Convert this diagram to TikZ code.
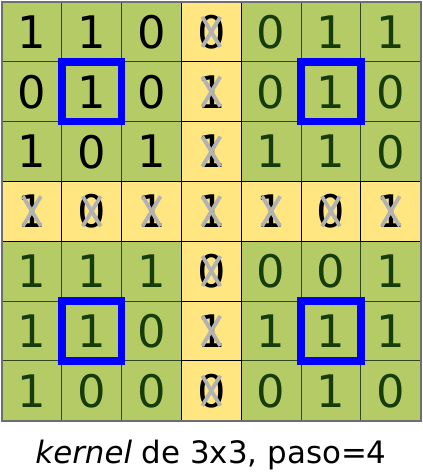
\documentclass[tikz,border=0pt]{standalone}
\usepackage{fontspec}
\setmainfont{DejaVu Sans}
\definecolor{cgreen}{RGB}{181,204,102}
\definecolor{cyellow}{RGB}{255,230,128}
\definecolor{cdark}{RGB}{22,60,10}
\definecolor{cline}{RGB}{50,70,30}
\definecolor{cgrayx}{RGB}{178,178,178}
\definecolor{cborder}{RGB}{110,110,110}
\begin{document}
\begin{tikzpicture}[x=1bp,y=-1bp,
  gcell/.style={fill=cgreen,draw=cline,line width=0.9bp},
  ycell/.style={fill=cyellow,draw=black,line width=0.9bp},
  digit/.style={font=\fontsize{45}{48}\selectfont,inner sep=0pt,text depth=0pt},
  crossline/.style={draw=cgrayx,line width=3.8bp},
  kbox/.style={draw=blue,line width=7.5bp},
  caption/.style={font=\fontsize{31}{36}\selectfont,anchor=base}]
\useasboundingbox (0,0) rectangle (422,473);
\def\cw{59.8}
\def\ox{2}
\def\oy{2}
\foreach \r/\rowv in {0/{1,1,0,0,0,1,1},1/{0,1,0,1,0,1,0},2/{1,0,1,1,1,1,0},3/{1,0,1,1,1,0,1},4/{1,1,1,0,0,0,1},5/{1,1,0,1,1,1,1},6/{1,0,0,0,0,1,0}}{
  \foreach \v [count=\ci from 0] in \rowv {
    \pgfmathsetmacro{\xa}{\ox+\ci*\cw}
    \pgfmathsetmacro{\ya}{\oy+\r*\cw}
    \pgfmathsetmacro{\xc}{\xa+\cw/2}
    \pgfmathsetmacro{\yc}{\ya+\cw/2}
    \ifnum\ci=3 \def\isy{1}\else\ifnum\r=3 \def\isy{1}\else\def\isy{0}\fi\fi
    \ifnum\isy=1
      \path[ycell] (\xa,\ya) rectangle ++(\cw,\cw);
      \node[digit,text=black] (d\r\ci) at (\xc,\yc) {\v};
      \draw[crossline] ([shift={(-9,-15)}]d\r\ci.center) -- ([shift={(9,15)}]d\r\ci.center);
      \draw[crossline] ([shift={(9,-15)}]d\r\ci.center) -- ([shift={(-9,15)}]d\r\ci.center);
    \else
      \path[gcell] (\xa,\ya) rectangle ++(\cw,\cw);
      \ifnum\r<3 \ifnum\ci<3 \def\tc{black}\else\def\tc{cdark}\fi\else\def\tc{cdark}\fi
      \node[digit,text=\tc] (d\r\ci) at (\xc,\yc) {\v};
    \fi
  }
}
\foreach \r in {0,...,6}{
  \pgfmathsetmacro{\xa}{\ox+3*\cw}
  \pgfmathsetmacro{\ya}{\oy+\r*\cw}
  \draw[black,line width=0.9bp] (\xa,\ya) rectangle ++(\cw,\cw);
}
\foreach \ci in {0,...,6}{
  \pgfmathsetmacro{\xa}{\ox+\ci*\cw}
  \pgfmathsetmacro{\ya}{\oy+3*\cw}
  \draw[black,line width=0.9bp] (\xa,\ya) rectangle ++(\cw,\cw);
}
\draw[cborder,line width=2.2bp] (\ox,\oy) rectangle ++(7*\cw,7*\cw);
\foreach \r/\ci in {1/1,1/5,5/1,5/5}{
  \pgfmathsetmacro{\xa}{\ox+\ci*\cw}
  \pgfmathsetmacro{\ya}{\oy+\r*\cw}
  \draw[kbox] (\xa,\ya) rectangle ++(\cw,\cw);
}
\node[caption] (cap) at (211,463) {\textit{kernel} de 3x3, paso=4};
\end{tikzpicture}
\end{document}
